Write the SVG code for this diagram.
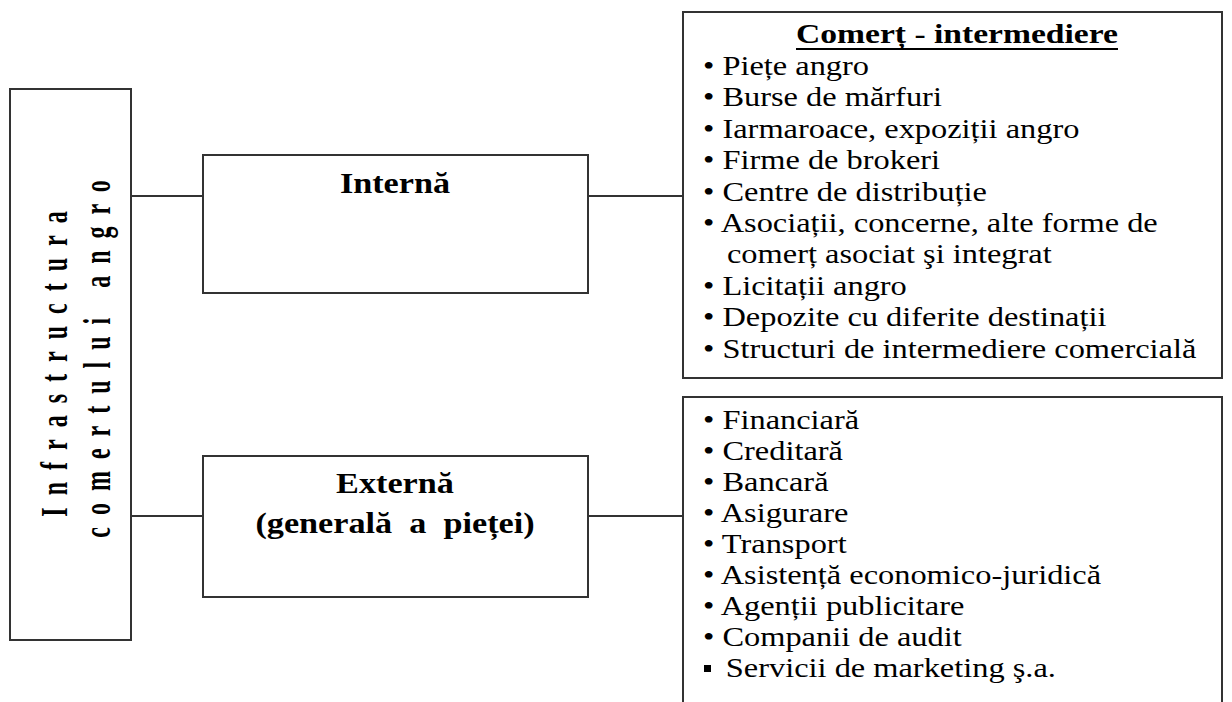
<svg xmlns="http://www.w3.org/2000/svg" width="1232" height="702" viewBox="0 0 1232 702">
  <style>
    .box { fill: #ffffff; stroke: #333333; stroke-width: 2; }
    .conn { stroke: #333333; stroke-width: 2; fill: none; }
    .txt { font-family: "Liberation Serif", "Times New Roman", serif; fill: #000000; }
    .b { font-weight: bold; }
    .item { font-size: 27px; }
    .vert { font-size: 24px; letter-spacing: 12px; font-weight: bold; }
  </style>
  <rect width="1232" height="702" fill="#ffffff"/>

  <!-- connectors -->
  <g id="connectors">
    <line class="conn" x1="131" y1="196" x2="203" y2="196"/>
    <line class="conn" x1="588" y1="196" x2="683" y2="196"/>
    <line class="conn" x1="131" y1="516" x2="203" y2="516"/>
    <line class="conn" x1="588" y1="516" x2="683" y2="516"/>
  </g>

  <!-- root: vertical label -->
  <g id="root">
    <rect class="box" x="10" y="89" width="121" height="551"/>
    <text class="txt vert" text-anchor="middle" transform="translate(67,358) scale(1.55,1) rotate(-90)">Infrastructura</text>
    <text class="txt vert" text-anchor="middle" transform="translate(110,353) scale(1.55,1) rotate(-90)">comertului angro</text>
  </g>

  <!-- internal infrastructure -->
  <g id="interna">
    <rect class="box" x="203" y="155" width="385" height="138"/>
    <text class="txt b" font-size="29" text-anchor="middle" transform="translate(395,193) scale(1.18,1)">Internă</text>
  </g>

  <!-- external infrastructure -->
  <g id="externa">
    <rect class="box" x="203" y="456" width="385" height="141"/>
    <text class="txt b" font-size="29" text-anchor="middle" transform="translate(395,493) scale(1.18,1)">Externă</text>
    <text class="txt b" font-size="29" text-anchor="middle" style="white-space:pre" transform="translate(395,533) scale(1.18,1)">(generală  a  pieței)</text>
  </g>

  <!-- trade / intermediation list -->
  <g id="comert">
    <rect class="box" x="683" y="12" width="539" height="366"/>
    <text class="txt b" font-size="28" text-anchor="middle" transform="translate(957,43) scale(1.2,1)">Comerț - intermediere</text>
    <line x1="796" y1="49" x2="1118" y2="49" stroke="#000000" stroke-width="2"/>
    <g class="txt item" transform="translate(703,0) scale(1.2,1)">
      <text x="0" y="75">• Piețe angro</text>
      <text x="0" y="106.4">• Burse de mărfuri</text>
      <text x="0" y="137.8">• Iarmaroace, expoziții angro</text>
      <text x="0" y="169.2">• Firme de brokeri</text>
      <text x="0" y="200.6">• Centre de distribuție</text>
      <text x="0" y="232">• Asociații, concerne, alte forme de</text>
      <text x="20" y="263.4">comerț asociat şi integrat</text>
      <text x="0" y="294.8">• Licitații angro</text>
      <text x="0" y="326.2">• Depozite cu diferite destinații</text>
      <text x="0" y="357.6">• Structuri de intermediere comercială</text>
    </g>
  </g>

  <!-- general market services list -->
  <g id="servicii">
    <rect class="box" x="683" y="397" width="539" height="320"/>
    <g class="txt item" transform="translate(703,0) scale(1.2,1)">
      <text x="0" y="429">• Financiară</text>
      <text x="0" y="460">• Creditară</text>
      <text x="0" y="491">• Bancară</text>
      <text x="0" y="522">• Asigurare</text>
      <text x="0" y="553">• Transport</text>
      <text x="0" y="584">• Asistență economico-juridică</text>
      <text x="0" y="615">• Agenții publicitare</text>
      <text x="0" y="646">• Companii de audit</text>
      <text x="19" y="677">Servicii de marketing ş.a.</text>
    </g>
    <rect x="704" y="665" width="7" height="7" fill="#000000"/>
  </g>
</svg>
